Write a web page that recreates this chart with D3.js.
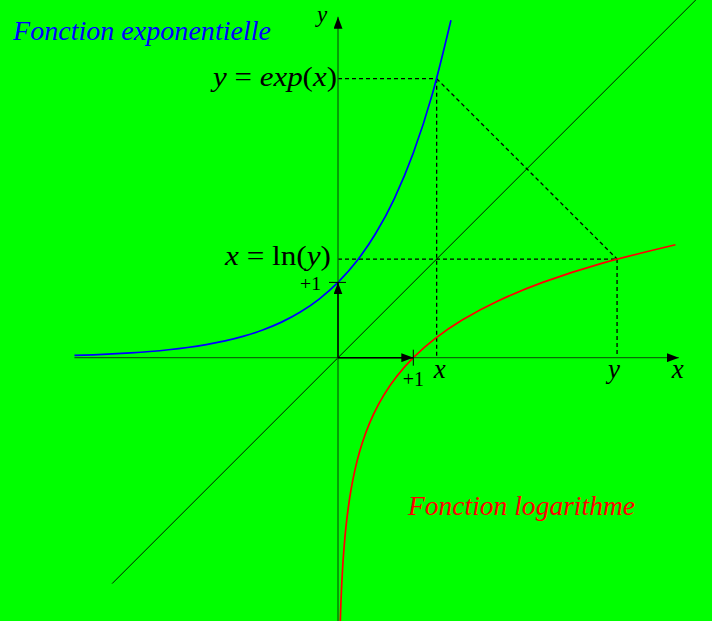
<!DOCTYPE html>
<html>
<head>
<meta charset="utf-8">
<script src="https://cdn.jsdelivr.net/npm/d3@7"></script>
<style>
  html, body { margin: 0; padding: 0; background: #00ff00; overflow: hidden; }
  text { font-family: "Liberation Serif", "DejaVu Serif", serif; }
</style>
</head>
<body>
<script>
// values (units of the plot)
const xDomain = [-3.5, 4.5];
const yDomain = [-3.5, 4.5];
const expX = [-3.5, -3.25, -3, -2.75, -2.5, -2.25, -2, -1.75, -1.5, -1.25, -1,
              -0.75, -0.5, -0.25, 0, 0.25, 0.5, 0.75, 1, 1.25, 1.5];
const expY = [0.0302, 0.0388, 0.0498, 0.0639, 0.0821, 0.1054, 0.1353, 0.1738, 0.2231, 0.2865, 0.3679,
              0.4724, 0.6065, 0.7788, 1, 1.284, 1.6487, 2.117, 2.7183, 3.4903, 4.4817];
const diagonal = [-3, 4.75];
const point = {x: 1.31, y: 3.706};
const unitTick = 1;

let width = null, height = null, svg = null, x, y = null;

setupCanvasSize();
appendSvg("body");
setupScales();
appendDiagonal();
appendDashes();
appendCurves();
appendAxes();
appendLabels();

function setupCanvasSize() {
  width = 712;
  height = 621;
}

function appendSvg(domElement) {
  svg = d3.select(domElement).append("svg")
    .attr("width", width)
    .attr("height", height);
  svg.append("rect").attr("width", width).attr("height", height).attr("fill", "#00ff00");
  const defs = svg.append("defs");
  defs.append("marker")
    .attr("id", "arrow")
    .attr("viewBox", "0 0 12 9")
    .attr("refX", 12).attr("refY", 4.5)
    .attr("markerWidth", 12).attr("markerHeight", 9)
    .attr("markerUnits", "userSpaceOnUse")
    .attr("orient", "auto")
    .append("path").attr("d", "M0,0 L12,4.5 L0,9 Z").attr("fill", "#000");
}

function setupScales() {
  const unit = 75.3, ox = 338, oy = 357.7;
  x = d3.scaleLinear().domain(xDomain).range([ox + xDomain[0] * unit, ox + xDomain[1] * unit]);
  y = d3.scaleLinear().domain(yDomain).range([oy - yDomain[0] * unit, oy - yDomain[1] * unit]);
}

function appendDiagonal() {
  svg.append("line")
    .attr("x1", x(diagonal[0])).attr("y1", y(diagonal[0]))
    .attr("x2", x(diagonal[1])).attr("y2", y(diagonal[1]))
    .attr("stroke", "#000").attr("stroke-width", 0.9);
}

function appendDashes() {
  const segs = [
    [0, point.y, point.x, point.y],
    [point.x, point.y, point.x, 0],
    [0, point.x, point.y, point.x],
    [point.y, point.x, point.y, 0],
    [point.x, point.y, point.y, point.x]
  ];
  svg.selectAll(".dash").data(segs).enter().append("line")
    .attr("class", "dash")
    .attr("x1", d => x(d[0])).attr("y1", d => y(d[1]))
    .attr("x2", d => x(d[2])).attr("y2", d => y(d[3]))
    .attr("stroke", "#000").attr("stroke-width", 1.3)
    .attr("stroke-dasharray", "4,3");
}

function appendCurves() {
  const pts = expX.map((v, i) => [v, expY[i]]);
  const expLine = d3.line().x(d => x(d[0])).y(d => y(d[1])).curve(d3.curveMonotoneX);
  const lnLine = d3.line().x(d => x(d[1])).y(d => y(d[0])).curve(d3.curveMonotoneY);
  svg.append("path").datum(pts).attr("d", expLine)
    .attr("fill", "none").attr("stroke", "#0000ff").attr("stroke-width", 1.7);
  svg.append("path").datum(pts).attr("d", lnLine)
    .attr("fill", "none").attr("stroke", "#ff0000").attr("stroke-width", 1.7);
}

function appendAxes() {
  const axisColor = "#0a6a0a";
  svg.append("line")
    .attr("x1", x(xDomain[0])).attr("y1", y(0))
    .attr("x2", x(xDomain[1]) + 2).attr("y2", y(0))
    .attr("stroke", axisColor).attr("stroke-width", 1.3)
    .attr("marker-end", "url(#arrow)");
  svg.append("line")
    .attr("x1", x(0)).attr("y1", y(yDomain[0]))
    .attr("x2", x(0)).attr("y2", y(yDomain[1]) - 2)
    .attr("stroke", axisColor).attr("stroke-width", 1.3)
    .attr("marker-end", "url(#arrow)");
  // unit vectors
  svg.append("line")
    .attr("x1", x(0)).attr("y1", y(0)).attr("x2", x(unitTick)).attr("y2", y(0))
    .attr("stroke", "#000").attr("stroke-width", 1.4).attr("marker-end", "url(#arrow)");
  svg.append("line")
    .attr("x1", x(0)).attr("y1", y(0)).attr("x2", x(0)).attr("y2", y(unitTick))
    .attr("stroke", "#000").attr("stroke-width", 1.4).attr("marker-end", "url(#arrow)");
  svg.append("line")
    .attr("x1", x(unitTick)).attr("y1", y(0) - 8).attr("x2", x(unitTick)).attr("y2", y(0) + 8)
    .attr("stroke", "#000").attr("stroke-width", 1);
  svg.append("line")
    .attr("x1", x(0) - 9).attr("y1", y(unitTick)).attr("x2", x(0) + 8).attr("y2", y(unitTick))
    .attr("stroke", "#000").attr("stroke-width", 1);
}

function mathText(parts, px, py, anchor, size, color, len) {
  const t = svg.append("text")
    .attr("x", px).attr("y", py)
    .attr("text-anchor", anchor)
    .attr("font-size", size)
    .attr("fill", color || "#000");
  if (len) t.attr("textLength", len).attr("lengthAdjust", "spacingAndGlyphs");
  parts.forEach(p => {
    t.append("tspan").text(p[0]).attr("font-style", p[1] ? "italic" : "normal");
  });
  return t;
}

function appendLabels() {
  mathText([["y", 1]], x(0) - 16, 22, "middle", 23);
  mathText([["x", 1]], x(xDomain[1]) + 1, 378, "middle", 27);
  mathText([["+1", 0]], x(unitTick), 386, "middle", 20);
  mathText([["+1", 0]], x(0) - 17, 290, "end", 19, null, 21);
  mathText([["x", 1]], x(point.x) + 3, 378, "middle", 27);
  mathText([["y", 1]], x(point.y) - 3, 378, "middle", 27);
  mathText([["y", 1], [" = ", 0], ["exp", 1], ["(", 0], ["x", 1], [")", 0]], x(0) - 1, 86, "end", 27, null, 124);
  mathText([["x", 1], [" = ln(", 0], ["y", 1], [")", 0]], x(0) - 7, 265, "end", 27, null, 106);
  mathText([["Fonction exponentielle", 1]], 13, 40, "start", 27, "#0000ff", 258);
  mathText([["Fonction logarithme", 1]], 408, 515, "start", 27, "#ff0000", 227);
}
</script>
</body>
</html>
